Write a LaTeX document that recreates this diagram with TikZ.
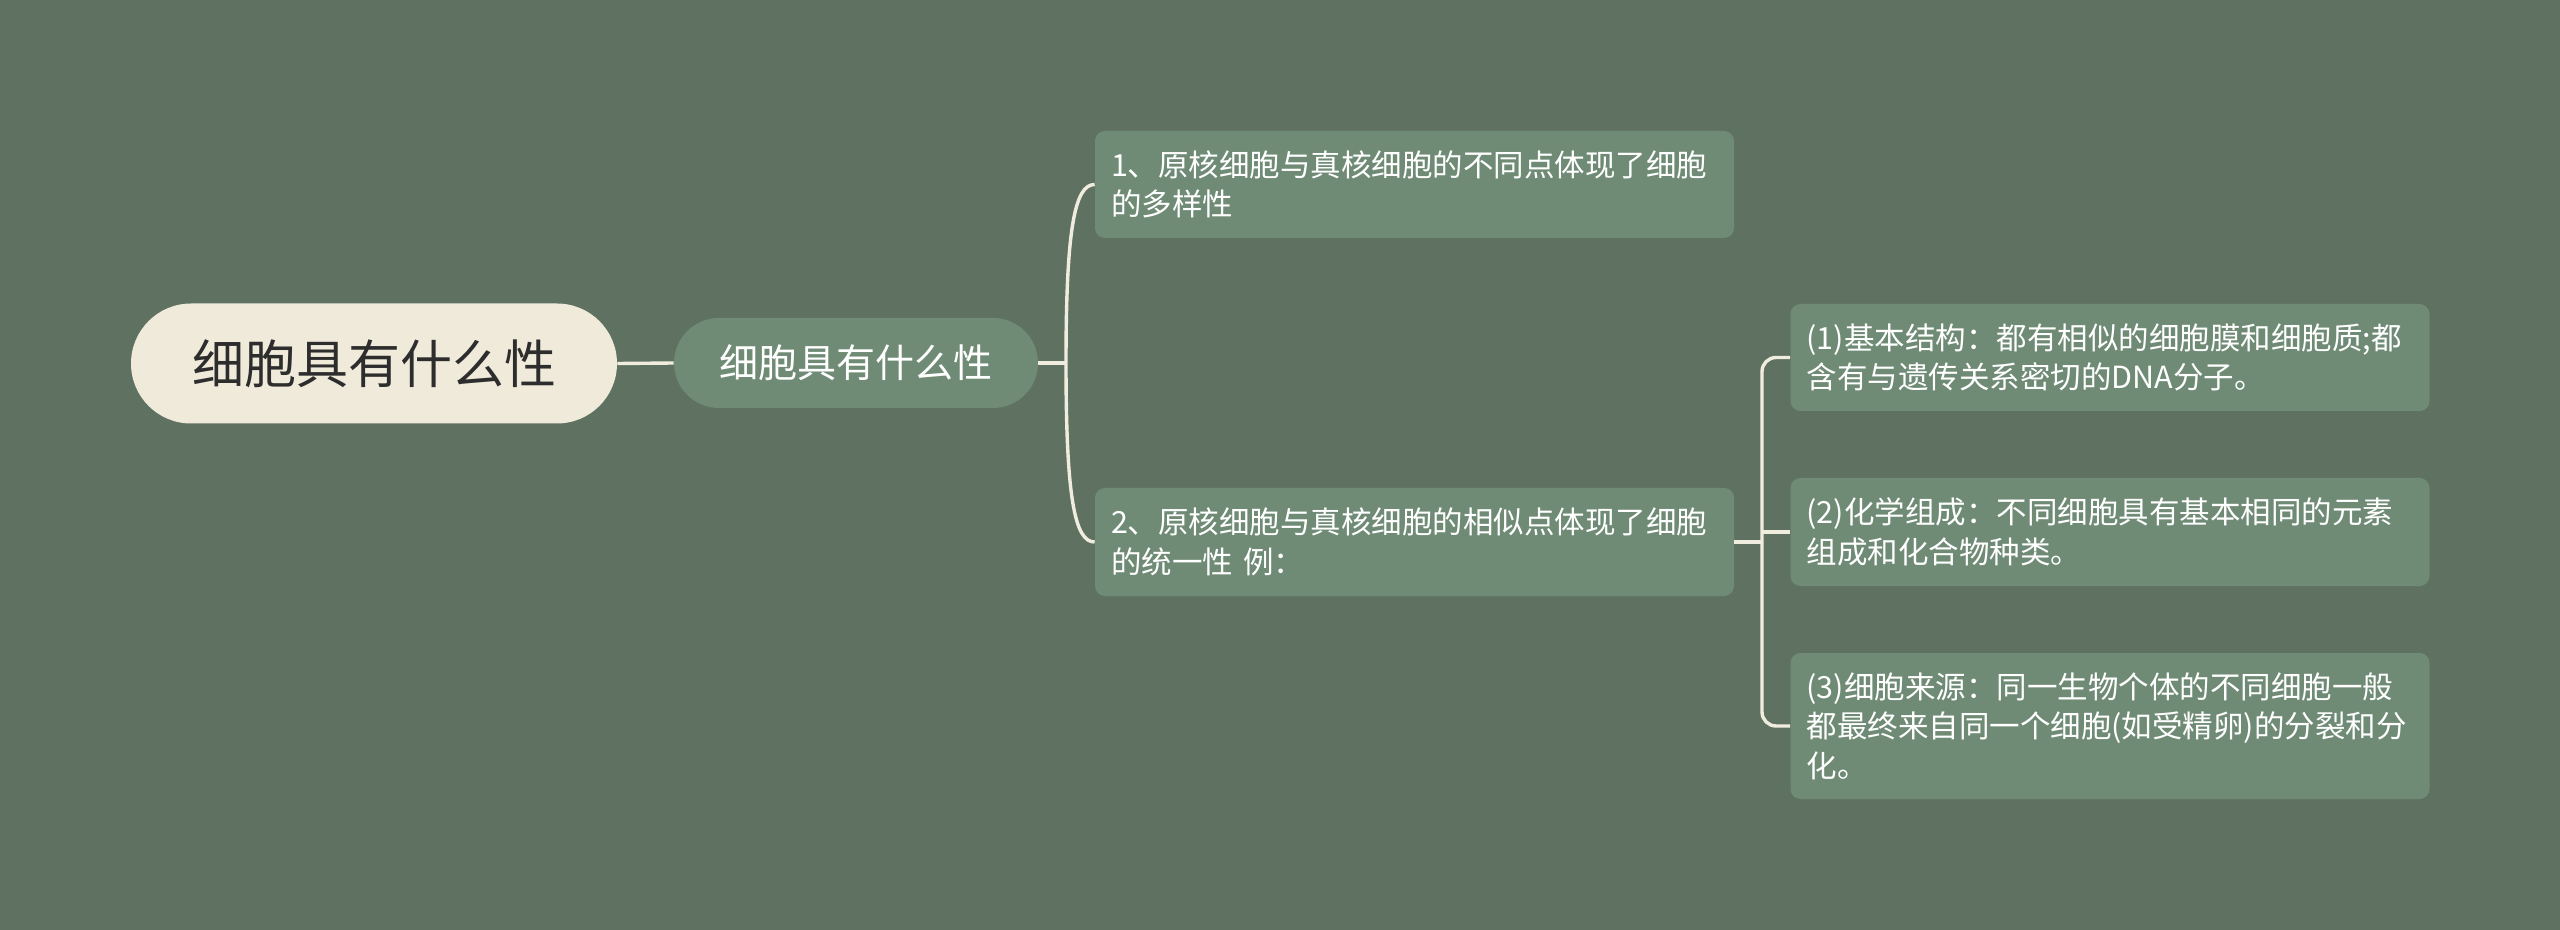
\documentclass[tikz,border=0pt]{standalone}
\usepackage{fontspec}
\newfontfamily\cjk{Noto Sans CJK SC}
\usetikzlibrary{calc}
\definecolor{bgc}{RGB}{95,114,98}
\definecolor{boxc}{RGB}{111,139,117}
\definecolor{creamc}{RGB}{239,234,218}
\definecolor{linec}{RGB}{241,237,222}
\definecolor{darktext}{RGB}{45,45,45}
\tikzset{
  rootnode/.style={fill=creamc, rounded corners=30pt, minimum width=243pt, minimum height=60pt,
    inner sep=0pt, text=darktext, font=\cjk\fontsize{26pt}{30pt}\selectfont},
  subnode/.style={fill=boxc, rounded corners=22.5pt, minimum width=182pt, minimum height=45pt,
    inner sep=0pt, text=white, font=\cjk\fontsize{19.5pt}{24pt}\selectfont},
  textbox/.style={fill=boxc, rounded corners=5pt, text width=303.5pt, inner xsep=8pt, inner ysep=0pt,
    align=left, text=white, font=\cjk\fontsize{15.25pt}{19.75pt}\selectfont},
  conn/.style={draw=linec, line width=1.7pt}
}
\begin{document}
\begin{tikzpicture}[x=0.5pt,y=-0.5pt]
\fill[bgc] (0,0) rectangle (2560,930);
\useasboundingbox (0,0) rectangle (2560,930);

\node[rootnode] (root) at (374,363.5) {细胞具有什么性};
\node[subnode] (sub) at (856,363) {细胞具有什么性};
\node[textbox, minimum height=53.5pt] (n1) at (1414.5,184.5) {1、原核细胞与真核细胞的不同点体现了细胞\\的多样性};
\node[textbox, minimum height=54pt] (n2) at (1414.5,542) {2、原核细胞与真核细胞的相似点体现了细胞\\的统一性 例：};
\node[textbox, minimum height=53.5pt] (l1) at (2110,357.5) {(1)基本结构：都有相似的细胞膜和细胞质;都\\含有与遗传关系密切的DNA分子。};
\node[textbox, minimum height=54pt] (l2) at (2110,532) {(2)化学组成：不同细胞具有基本相同的元素\\组成和化合物种类。};
\node[textbox, minimum height=73pt] (l3) at (2110,726) {(3)细胞来源：同一生物个体的不同细胞一般\\都最终来自同一个细胞(如受精卵)的分裂和分\\化。};

\coordinate (j1) at (1066,363);
\coordinate (j2) at (1762,542);

\draw[conn] (root.east) -- (sub.west);
\draw[conn] (sub.east) -- (j1);
\draw[conn] (j1) .. controls ($(j1)!0.75!(j1 |- n1.west)$) and ($(n1.west)+(-20,0)$) .. (n1.west);
\draw[conn] (j1) .. controls ($(j1)!0.75!(j1 |- n2.west)$) and ($(n2.west)+(-20,0)$) .. (n2.west);

\draw[conn] (n2.east) -- (j2);
\draw[conn, rounded corners=7pt] (j2) |- (l1.west);
\draw[conn, rounded corners=7pt] (j2) |- (l3.west);
\draw[conn] (j2 |- l2.west) -- (l2.west);
\end{tikzpicture}
\end{document}
